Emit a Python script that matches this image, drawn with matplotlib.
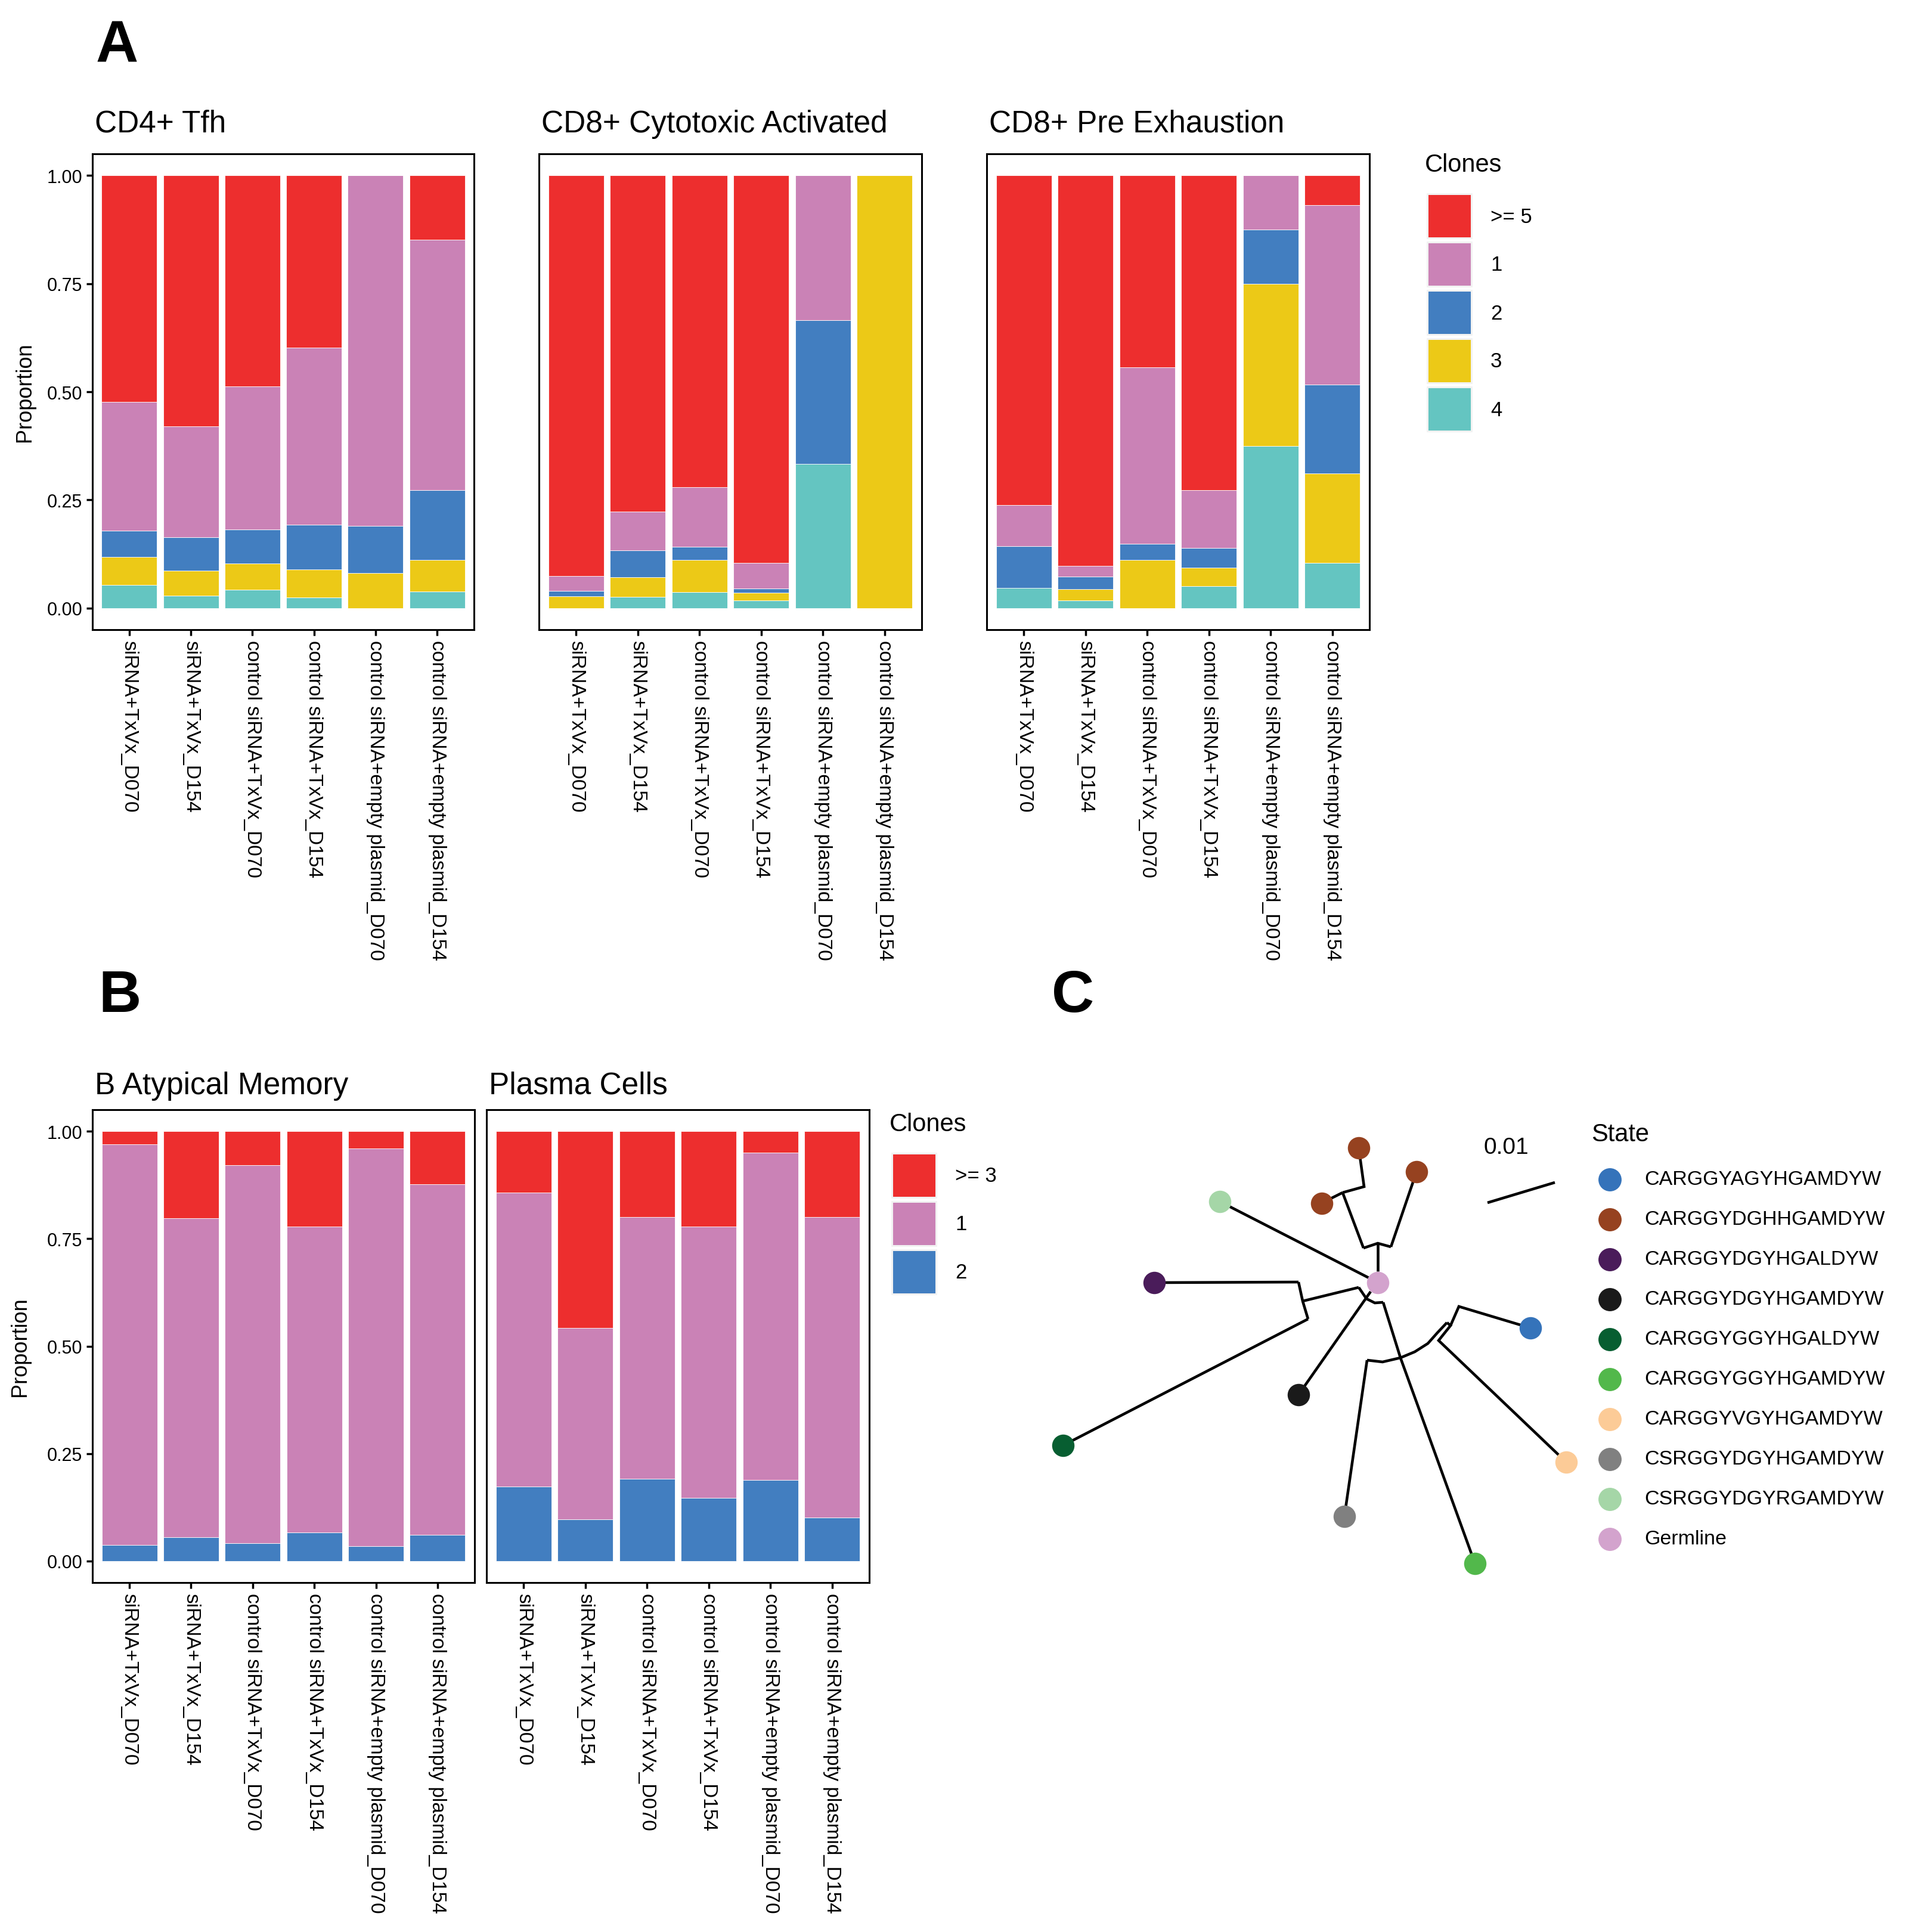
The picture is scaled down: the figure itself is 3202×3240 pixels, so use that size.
import numpy as np
import matplotlib
matplotlib.use("Agg")
from matplotlib import pyplot as plt
from matplotlib.patches import Rectangle

plt.rcParams["font.family"] = ["Liberation Sans", "DejaVu Sans"]

W, H, DPI = 3202, 3241, 100

samples = ["siRNA+TxVx_D070", "siRNA+TxVx_D154",
           "control siRNA+TxVx_D070", "control siRNA+TxVx_D154",
           "control siRNA+empty plasmid_D070", "control siRNA+empty plasmid_D154"]

# colours for clone size classes
c_big = "#ED2E2E"
c_one = "#CA82B6"
c_two = "#427EC0"
c_three = "#ECC917"
c_four = "#64C5C1"

# panel A: proportions, stacked bottom -> top as 4, 3, 2, 1, >=5
tfh_4 = [0.054, 0.028, 0.042, 0.025, 0.000, 0.038]
tfh_3 = [0.064, 0.058, 0.061, 0.064, 0.081, 0.073]
tfh_2 = [0.061, 0.077, 0.079, 0.103, 0.109, 0.161]
tfh_1 = [0.297, 0.257, 0.331, 0.410, 0.810, 0.580]
tfh_5 = [0.524, 0.580, 0.487, 0.398, 0.000, 0.148]

cyt_4 = [0.000, 0.026, 0.037, 0.018, 0.333, 0.000]
cyt_3 = [0.027, 0.045, 0.074, 0.018, 0.000, 1.000]
cyt_2 = [0.013, 0.063, 0.030, 0.009, 0.333, 0.000]
cyt_1 = [0.034, 0.089, 0.139, 0.060, 0.334, 0.000]
cyt_5 = [0.926, 0.777, 0.720, 0.895, 0.000, 0.000]

pre_4 = [0.047, 0.017, 0.000, 0.051, 0.375, 0.104]
pre_3 = [0.000, 0.027, 0.111, 0.042, 0.375, 0.207]
pre_2 = [0.096, 0.029, 0.037, 0.046, 0.125, 0.206]
pre_1 = [0.095, 0.025, 0.408, 0.134, 0.125, 0.414]
pre_5 = [0.762, 0.902, 0.444, 0.727, 0.000, 0.069]

# panel B: stacked bottom -> top as 2, 1, >=3
atm_2 = [0.037, 0.056, 0.041, 0.067, 0.035, 0.061]
atm_1 = [0.932, 0.741, 0.880, 0.711, 0.925, 0.816]
atm_3 = [0.031, 0.203, 0.079, 0.222, 0.040, 0.123]

pc_2 = [0.173, 0.097, 0.192, 0.147, 0.188, 0.101]
pc_1 = [0.684, 0.446, 0.608, 0.631, 0.762, 0.699]
pc_3 = [0.143, 0.457, 0.200, 0.222, 0.050, 0.200]

# panel C: tree (positions)
states = ["CARGGYAGYHGAMDYW", "CARGGYDGHHGAMDYW", "CARGGYDGYHGALDYW",
          "CARGGYDGYHGAMDYW", "CARGGYGGYHGALDYW", "CARGGYGGYHGAMDYW",
          "CARGGYVGYHGAMDYW", "CSRGGYDGYHGAMDYW", "CSRGGYDGYRGAMDYW", "Germline"]
state_colors = ["#3573BA", "#964220", "#4A1C5A", "#1A1A1A", "#075E31",
                "#52B84B", "#FCCB97", "#808080", "#A5D6A7", "#D3A3CD"]
tip_state = ["CARGGYAGYHGAMDYW", "CARGGYDGHHGAMDYW", "CARGGYDGHHGAMDYW",
             "CARGGYDGHHGAMDYW", "CARGGYDGYHGALDYW", "CARGGYDGYHGAMDYW",
             "CARGGYGGYHGALDYW", "CARGGYGGYHGAMDYW", "CARGGYVGYHGAMDYW",
             "CSRGGYDGYHGAMDYW", "CSRGGYDGYRGAMDYW", "Germline"]
tip_x = [867, 579, 517, 676, 236, 478, 83, 774, 927, 555, 346, 611]
tip_y = [428, 126, 219, 166, 352, 540, 625, 823, 653, 744, 216, 352]
branches = [
    [(611, 333), (611, 287)],
    [(587, 294), (611, 286), (633, 292)],
    [(587, 294), (552, 201)],
    [(552, 201), (588, 191), (579, 126)],
    [(552, 201), (534, 210), (517, 219)],
    [(633, 292), (676, 166)],
    [(596, 344), (346, 216)],
    [(579, 360), (485, 383)],
    [(478, 351), (485, 383), (494, 413)],
    [(478, 351), (236, 352)],
    [(494, 413), (83, 625)],
    [(579, 360), (592, 379), (606, 386), (620, 385)],
    [(599, 367), (478, 540)],
    [(620, 385), (649, 478), (774, 823)],
    [(593, 482), (619, 485), (649, 478), (673, 468), (695, 454), (711, 436), (727, 419)],
    [(593, 482), (555, 744)],
    [(727, 419), (733, 424), (713, 449), (927, 653)],
    [(733, 424), (747, 392), (867, 428)],
]
scale_bar = [(795, 218), (908, 184)]

fig = plt.figure(figsize=(W / DPI, H / DPI), dpi=DPI)
fig.patch.set_facecolor("white")

overlay = fig.add_axes([0, 0, 1, 1])
overlay.set_xlim(0, W)
overlay.set_ylim(H, 0)
overlay.axis("off")


def px_axes(x0, y0, x1, y1):
    return fig.add_axes([x0 / W, 1 - y1 / H, (x1 - x0) / W, (y1 - y0) / H])


def bar_panel(box, title, title_y, layers, ylab_x=None):
    ax = px_axes(*box)
    pos = np.arange(1, len(samples) + 1)
    bottom = np.zeros(len(samples))
    for vals, col in layers:
        ax.bar(pos, vals, 0.9, bottom=bottom, color=col, edgecolor="white", linewidth=0.6)
        bottom = bottom + np.array(vals)
    ax.set_xlim(0.4, 6.6)
    ax.set_ylim(-0.05, 1.05)
    ax.set_xticks(pos)
    ax.set_xticklabels(samples, rotation=270, ha="center", va="top", fontsize=24)
    ax.tick_params(axis="x", length=7, width=2.5, pad=5)
    if ylab_x is None:
        ax.set_yticks([])
    else:
        ax.set_yticks([0, 0.25, 0.5, 0.75, 1.0])
        ax.set_yticklabels(["0.00", "0.25", "0.50", "0.75", "1.00"], fontsize=22)
        ax.tick_params(axis="y", length=7, width=2.5, pad=5)
        ax.set_ylabel("Proportion", fontsize=26)
        # x coordinate of the label's right edge
        ax.yaxis.set_label_coords((ylab_x - box[0]) / (box[2] - box[0]), 0.5)
    for s in ax.spines.values():
        s.set_linewidth(2.2)
    overlay.text(box[0] + 4, title_y, title, fontsize=37, va="baseline", ha="left")
    return ax


def clone_legend(x, y, labels, colors):
    overlay.text(x, y, "Clones", fontsize=30, va="center", ha="left")
    top = y + 48
    for i, (lab, col) in enumerate(zip(labels, colors)):
        ky = top + i * 81
        overlay.add_patch(Rectangle((x + 3, ky), 77, 77, facecolor="#F2F2F2", edgecolor="none"))
        overlay.add_patch(Rectangle((x + 6, ky + 3), 71, 71, facecolor=col, edgecolor="none"))
        overlay.text(x + 110, ky + 39, lab, fontsize=25, va="center", ha="left")


# panel A
bar_panel((155, 259, 795, 1057), "CD4+ Tfh", 222,
          [(tfh_4, c_four), (tfh_3, c_three), (tfh_2, c_two), (tfh_1, c_one), (tfh_5, c_big)], ylab_x=59)
bar_panel((904, 259, 1546, 1057), "CD8+ Cytotoxic Activated", 222,
          [(cyt_4, c_four), (cyt_3, c_three), (cyt_2, c_two), (cyt_1, c_one), (cyt_5, c_big)])
bar_panel((1655, 259, 2297, 1057), "CD8+ Pre Exhaustion", 222,
          [(pre_4, c_four), (pre_3, c_three), (pre_2, c_two), (pre_1, c_one), (pre_5, c_big)])
clone_legend(2390, 277, [">= 5", "1", "2", "3", "4"], [c_big, c_one, c_two, c_three, c_four])

# panel B
bar_panel((155, 1862, 796, 2655), "B Atypical Memory", 1835,
          [(atm_2, c_two), (atm_1, c_one), (atm_3, c_big)], ylab_x=51)
bar_panel((816, 1862, 1458, 2655), "Plasma Cells", 1835,
          [(pc_2, c_two), (pc_1, c_one), (pc_3, c_big)])
clone_legend(1492, 1886, [">= 3", "1", "2"], [c_big, c_one, c_two])

# panel C: tree
tax = px_axes(1700, 1800, 2700, 2700)
tax.set_xlim(0, 1000)
tax.set_ylim(900, 0)
tax.axis("off")
for br in branches:
    bx, by = zip(*br)
    tax.plot(bx, by, color="black", lw=3.3, solid_capstyle="butt", solid_joinstyle="miter", zorder=1)
sx, sy = zip(*scale_bar)
tax.plot(sx, sy, color="black", lw=3.3, solid_capstyle="butt")
tax.text(826, 125, "0.01", fontsize=28, ha="center", va="center")
col_of = dict(zip(states, state_colors))
for st, x, y in zip(tip_state, tip_x, tip_y):
    tax.plot(x, y, "o", ms=27, color=col_of[st], mec="none", zorder=3)

overlay.text(2669, 1903, "State", fontsize=30, va="center", ha="left")
for i, (st, col) in enumerate(zip(states, state_colors)):
    ly = 1979 + i * 67
    overlay.plot(2700, ly, "o", ms=28, color=col, mec="none")
    overlay.text(2758, ly, st, fontsize=24.5, va="center", ha="left")

# panel letters
overlay.text(161, 103, "A", fontsize=71, fontweight="bold", va="baseline", ha="left")
overlay.text(165, 1697, "B", fontsize=71, fontweight="bold", va="baseline", ha="left")
overlay.text(1764, 1697, "C", fontsize=71, fontweight="bold", va="baseline", ha="left")

fig.savefig("out.png", dpi=DPI, facecolor="white")
